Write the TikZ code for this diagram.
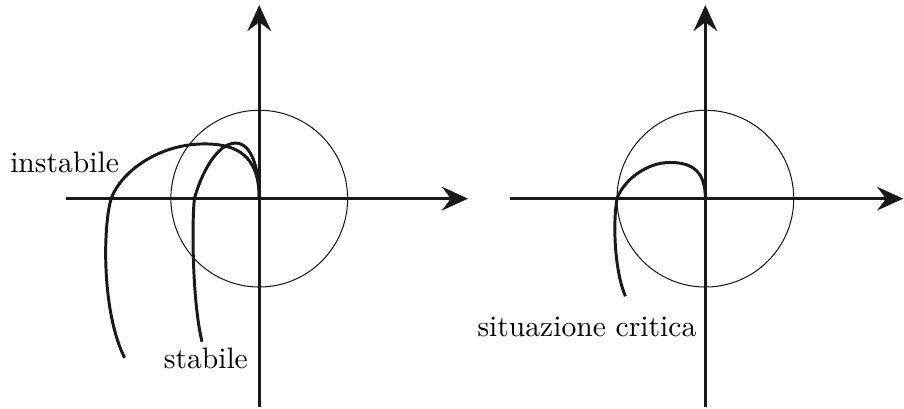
\documentclass[tikz,border=0pt]{standalone}
\usepackage{tikz}
\usetikzlibrary{arrows.meta}
\tikzset{
  % axis with filled arrow head
  axis/.style  = {-{Stealth[length=8.8pt,width=8pt,inset=3pt]}, line width=0.9pt, black!90},
  % unit circle
  unitc/.style = {line width=0.35pt, black!90},
  % Nyquist curve
  nyq/.style   = {line width=1pt, black!90},
  % curve label
  lbl/.style   = {inner sep=0pt},
}
\begin{document}
\begin{tikzpicture}
  \useasboundingbox (-3.08,-2.49) rectangle (7.66,2.36);

  % --- left plane: stable / unstable ---
  \coordinate (O1) at (0,0);
  \coordinate (xl1) at (-2.30,0);
  \coordinate (xr1) at (2.48,0);
  \coordinate (yb1) at (0,-2.48);
  \coordinate (yt1) at (0,2.30);
  \draw[axis] (xl1) -- (xr1);
  \draw[axis] (yb1) -- (yt1);
  \draw[unitc] (O1) circle (1.05);

  \draw[nyq] (O1) .. controls (0,0.38) and (-0.10,0.66) .. (-0.28,0.66)
             .. controls (-0.50,0.66) and (-0.69,0.30) .. (-0.77,0)
             .. controls (-0.80,-0.25) and (-0.80,-1.20) .. (-0.68,-1.70);
  \draw[nyq] (O1) .. controls (0,0.50) and (-0.25,0.65) .. (-0.65,0.65)
             .. controls (-1.20,0.65) and (-1.64,0.32) .. (-1.76,0)
             .. controls (-1.86,-0.35) and (-1.87,-1.35) .. (-1.60,-1.89);

  \node[lbl, anchor=base east] (instab) at (-1.66,0.31) {instabile};
  \node[lbl, anchor=base west] (stab) at (-1.14,-2.02) {stabile};

  % --- right plane: critical case ---
  \begin{scope}[xshift=5.30cm]
    \coordinate (O2) at (0,0);
    \coordinate (xl2) at (-2.32,0);
    \coordinate (xr2) at (2.35,0);
    \coordinate (yb2) at (0,-2.48);
    \coordinate (yt2) at (0,2.30);
    \draw[axis] (xl2) -- (xr2);
    \draw[axis] (yb2) -- (yt2);
    \draw[unitc] (O2) circle (1.05);

    \draw[nyq] (O2) .. controls (0,0.32) and (-0.15,0.43) .. (-0.42,0.43)
               .. controls (-0.70,0.43) and (-0.97,0.22) .. (-1.05,0)
               .. controls (-1.10,-0.30) and (-1.08,-0.85) .. (-0.95,-1.16);

    \node[lbl, anchor=base east] (crit) at (-0.10,-1.64) {situazione critica};
  \end{scope}
\end{tikzpicture}
\end{document}
